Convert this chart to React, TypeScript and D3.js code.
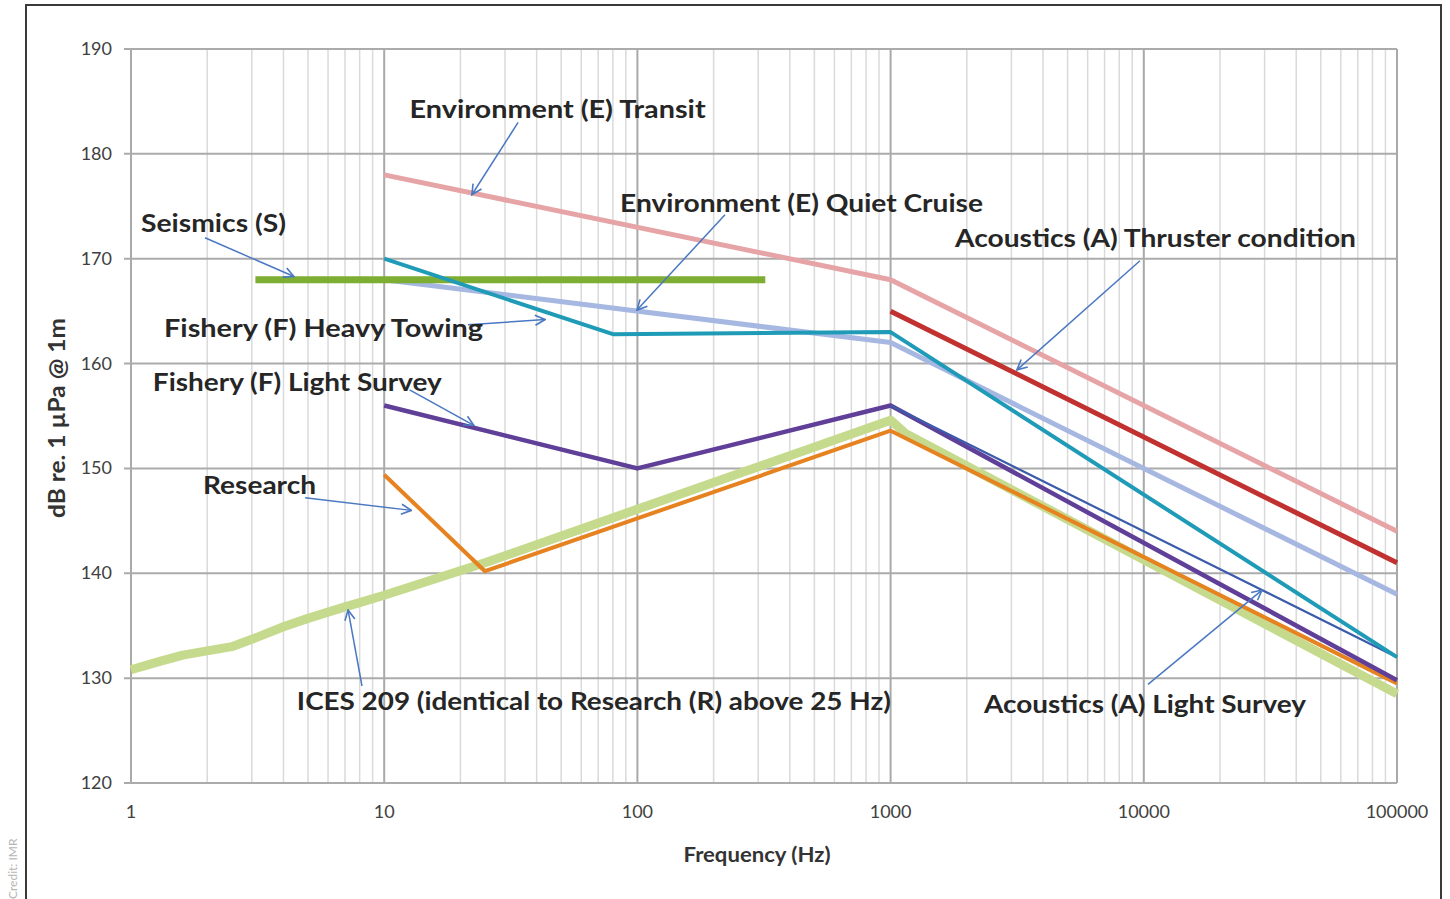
import React from "react";
import * as d3 from "d3";

type P = [number, number];

// ---- Data (frequency Hz, dB re 1 µPa @ 1m) ----
const envTransit: P[] = [[10, 178], [1000, 168], [100000, 144]];
const envQuiet: P[] = [[10, 168], [1000, 162], [100000, 138]];
const heavyTowing: P[] = [[10, 170], [80, 162.8], [1000, 163], [100000, 132]];
const thruster: P[] = [[1000, 165], [100000, 141]];
const lightSurveyF: P[] = [[10, 156], [100, 150], [1000, 156], [100000, 129.8]];
const lightSurveyA: P[] = [[1000, 156], [100000, 132]];
const research: P[] = [[10, 149.4], [25, 140.2], [1000, 153.6], [100000, 129.5]];
const ices209: P[] = [
  [1, 130.8], [1.3, 131.6], [1.6, 132.2], [2, 132.6], [2.5, 133.0], [3, 133.7],
  [4, 134.9], [5, 135.7], [6, 136.3], [7, 136.8], [8, 137.2], [10, 137.9],
  [25, 141.0], [1000, 154.6], [1150, 153.3], [100000, 128.5],
];
const seismics: P[] = [[3.1, 168], [320, 168]];

const yTicks = [120, 130, 140, 150, 160, 170, 180, 190];
const xTicks = [1, 10, 100, 1000, 10000, 100000];
const xTickLabels = ["1", "10", "100", "1000", "10000", "100000"];

// annotations: label (left, baseline) and arrow (from -> to), in data units
const labels: { text: string; at: P; w: number }[] = [
  { text: "Environment (E) Transit", at: [12.6, 183.4], w: 296 },
  { text: "Seismics (S)", at: [1.095, 172.55], w: 145 },
  { text: "Environment (E) Quiet Cruise", at: [85.4, 174.45], w: 363 },
  { text: "Acoustics (A) Thruster condition", at: [1796, 171.1], w: 401 },
  { text: "Fishery (F) Heavy  Towing", at: [1.35, 162.5], w: 319 },
  { text: "Fishery (F) Light Survey", at: [1.22, 157.4], w: 289 },
  { text: "Research", at: [1.925, 147.6], w: 113 },
  { text: "ICES 209 (identical to Research (R) above 25 Hz)", at: [4.52, 127.0], w: 594 },
  { text: "Acoustics (A) Light Survey", at: [2339, 126.7], w: 322 },
];
const arrows: { from: P; to: P }[] = [
  { from: [33.8, 183.0], to: [22.2, 176.1] },
  { from: [1.96, 172.0], to: [4.4, 168.3] },
  { from: [221.8, 174.2], to: [99.6, 165.1] },
  { from: [9660, 169.8], to: [3155, 159.4] },
  { from: [21.4, 163.7], to: [43.2, 164.2] },
  { from: [12.6, 157.5], to: [22.6, 154.1] },
  { from: [4.87, 147.2], to: [12.8, 146.0] },
  { from: [8.17, 129.25], to: [7.2, 136.5] },
  { from: [10390, 129.4], to: [29300, 138.4] },
];

const series: { data: P[]; color: string; w: number }[] = [
  { data: ices209, color: "#c6da8e", w: 9 },
  { data: research, color: "#e6821f", w: 4 },
  { data: lightSurveyF, color: "#5f3f98", w: 4.5 },
  { data: lightSurveyA, color: "#3b5cab", w: 2.2 },
  { data: envQuiet, color: "#a6b8e2", w: 5 },
  { data: seismics, color: "#7ead33", w: 7 },
  { data: heavyTowing, color: "#1f9bb8", w: 4 },
  { data: thruster, color: "#c0312f", w: 5 },
  { data: envTransit, color: "#e6a4a6", w: 5 },
];

const FONT = "Lato, 'Open Sans', sans-serif";

export default function App() {
  const x = d3.scaleLog().domain([1, 100000]).range([131, 1397]);
  const y = d3.scaleLinear().domain([120, 190]).range([783, 49]);
  const line = d3.line<P>().x((d) => x(d[0])).y((d) => y(d[1]));

  const minor: number[] = [];
  for (let d = 1; d < 100000; d *= 10) for (let k = 2; k <= 9; k++) minor.push(d * k);

  return (
    <svg width={1450} height={899} style={{ position: "absolute", left: 0, top: 0, background: "#fff" }}>
      <defs>
        <marker id="arr" viewBox="0 0 12 12" refX="11" refY="6" markerWidth="12" markerHeight="12"
          markerUnits="userSpaceOnUse" orient="auto">
          <path d="M1,1 L11,6 L1,11" fill="none" stroke="#4a78c2" strokeWidth={1.6} />
        </marker>
      </defs>
      <rect x={26} y={5} width={1415} height={910} fill="#fff" stroke="#3a3a3a" strokeWidth={2} />
      <text transform="translate(17,899) rotate(-90)" fontFamily={FONT} fontSize={12} fill="#b5b5b5">Credit: IMR</text>

      {/* grid */}
      {minor.map((m) => (
        <line key={"m" + m} x1={x(m)} x2={x(m)} y1={y(190)} y2={y(120)} stroke="#dadada" strokeWidth={1.5} />
      ))}
      {xTicks.map((t) => (
        <line key={"M" + t} x1={x(t)} x2={x(t)} y1={y(190)} y2={y(120)} stroke="#a9a9a9" strokeWidth={2} />
      ))}
      {yTicks.map((t) => (
        <line key={"h" + t} x1={124} x2={x(100000)} y1={y(t)} y2={y(t)} stroke="#ababab" strokeWidth={2} />
      ))}

      {/* tick labels */}
      {yTicks.map((t) => (
        <text key={"yl" + t} x={112} y={y(t) + 6} textAnchor="end" fontFamily={FONT} fontSize={18} fill="#404040">{t}</text>
      ))}
      {xTicks.map((t, i) => (
        <text key={"xl" + t} x={x(t)} y={818} textAnchor="middle" fontFamily={FONT} fontSize={18} fill="#404040">{xTickLabels[i]}</text>
      ))}
      <text x={757} y={862} textAnchor="middle" fontFamily={FONT} fontWeight={700} fontSize={21} fill="#333"
        textLength={147} lengthAdjust="spacingAndGlyphs">Frequency (Hz)</text>
      <text transform="translate(65,418) rotate(-90)" textAnchor="middle" fontFamily={FONT} fontWeight={700} fontSize={22} fill="#333"
        textLength={200} lengthAdjust="spacingAndGlyphs">dB re. 1 µPa @ 1m</text>

      {/* series */}
      {series.map((s, i) => (
        <path key={"s" + i} d={line(s.data) || ""} fill="none" stroke={s.color} strokeWidth={s.w}
          strokeLinejoin="round" strokeLinecap="butt" />
      ))}

      {/* annotations */}
      {arrows.map((a, i) => (
        <line key={"a" + i} x1={x(a.from[0])} y1={y(a.from[1])} x2={x(a.to[0])} y2={y(a.to[1])}
          stroke="#4a78c2" strokeWidth={1.5} markerEnd="url(#arr)" />
      ))}
      {labels.map((l, i) => (
        <text key={"t" + i} x={x(l.at[0])} y={y(l.at[1])} fontFamily={FONT} fontWeight={700} fontSize={25}
          fill="#262626" textLength={l.w} lengthAdjust="spacingAndGlyphs">{l.text}</text>
      ))}
    </svg>
  );
}
